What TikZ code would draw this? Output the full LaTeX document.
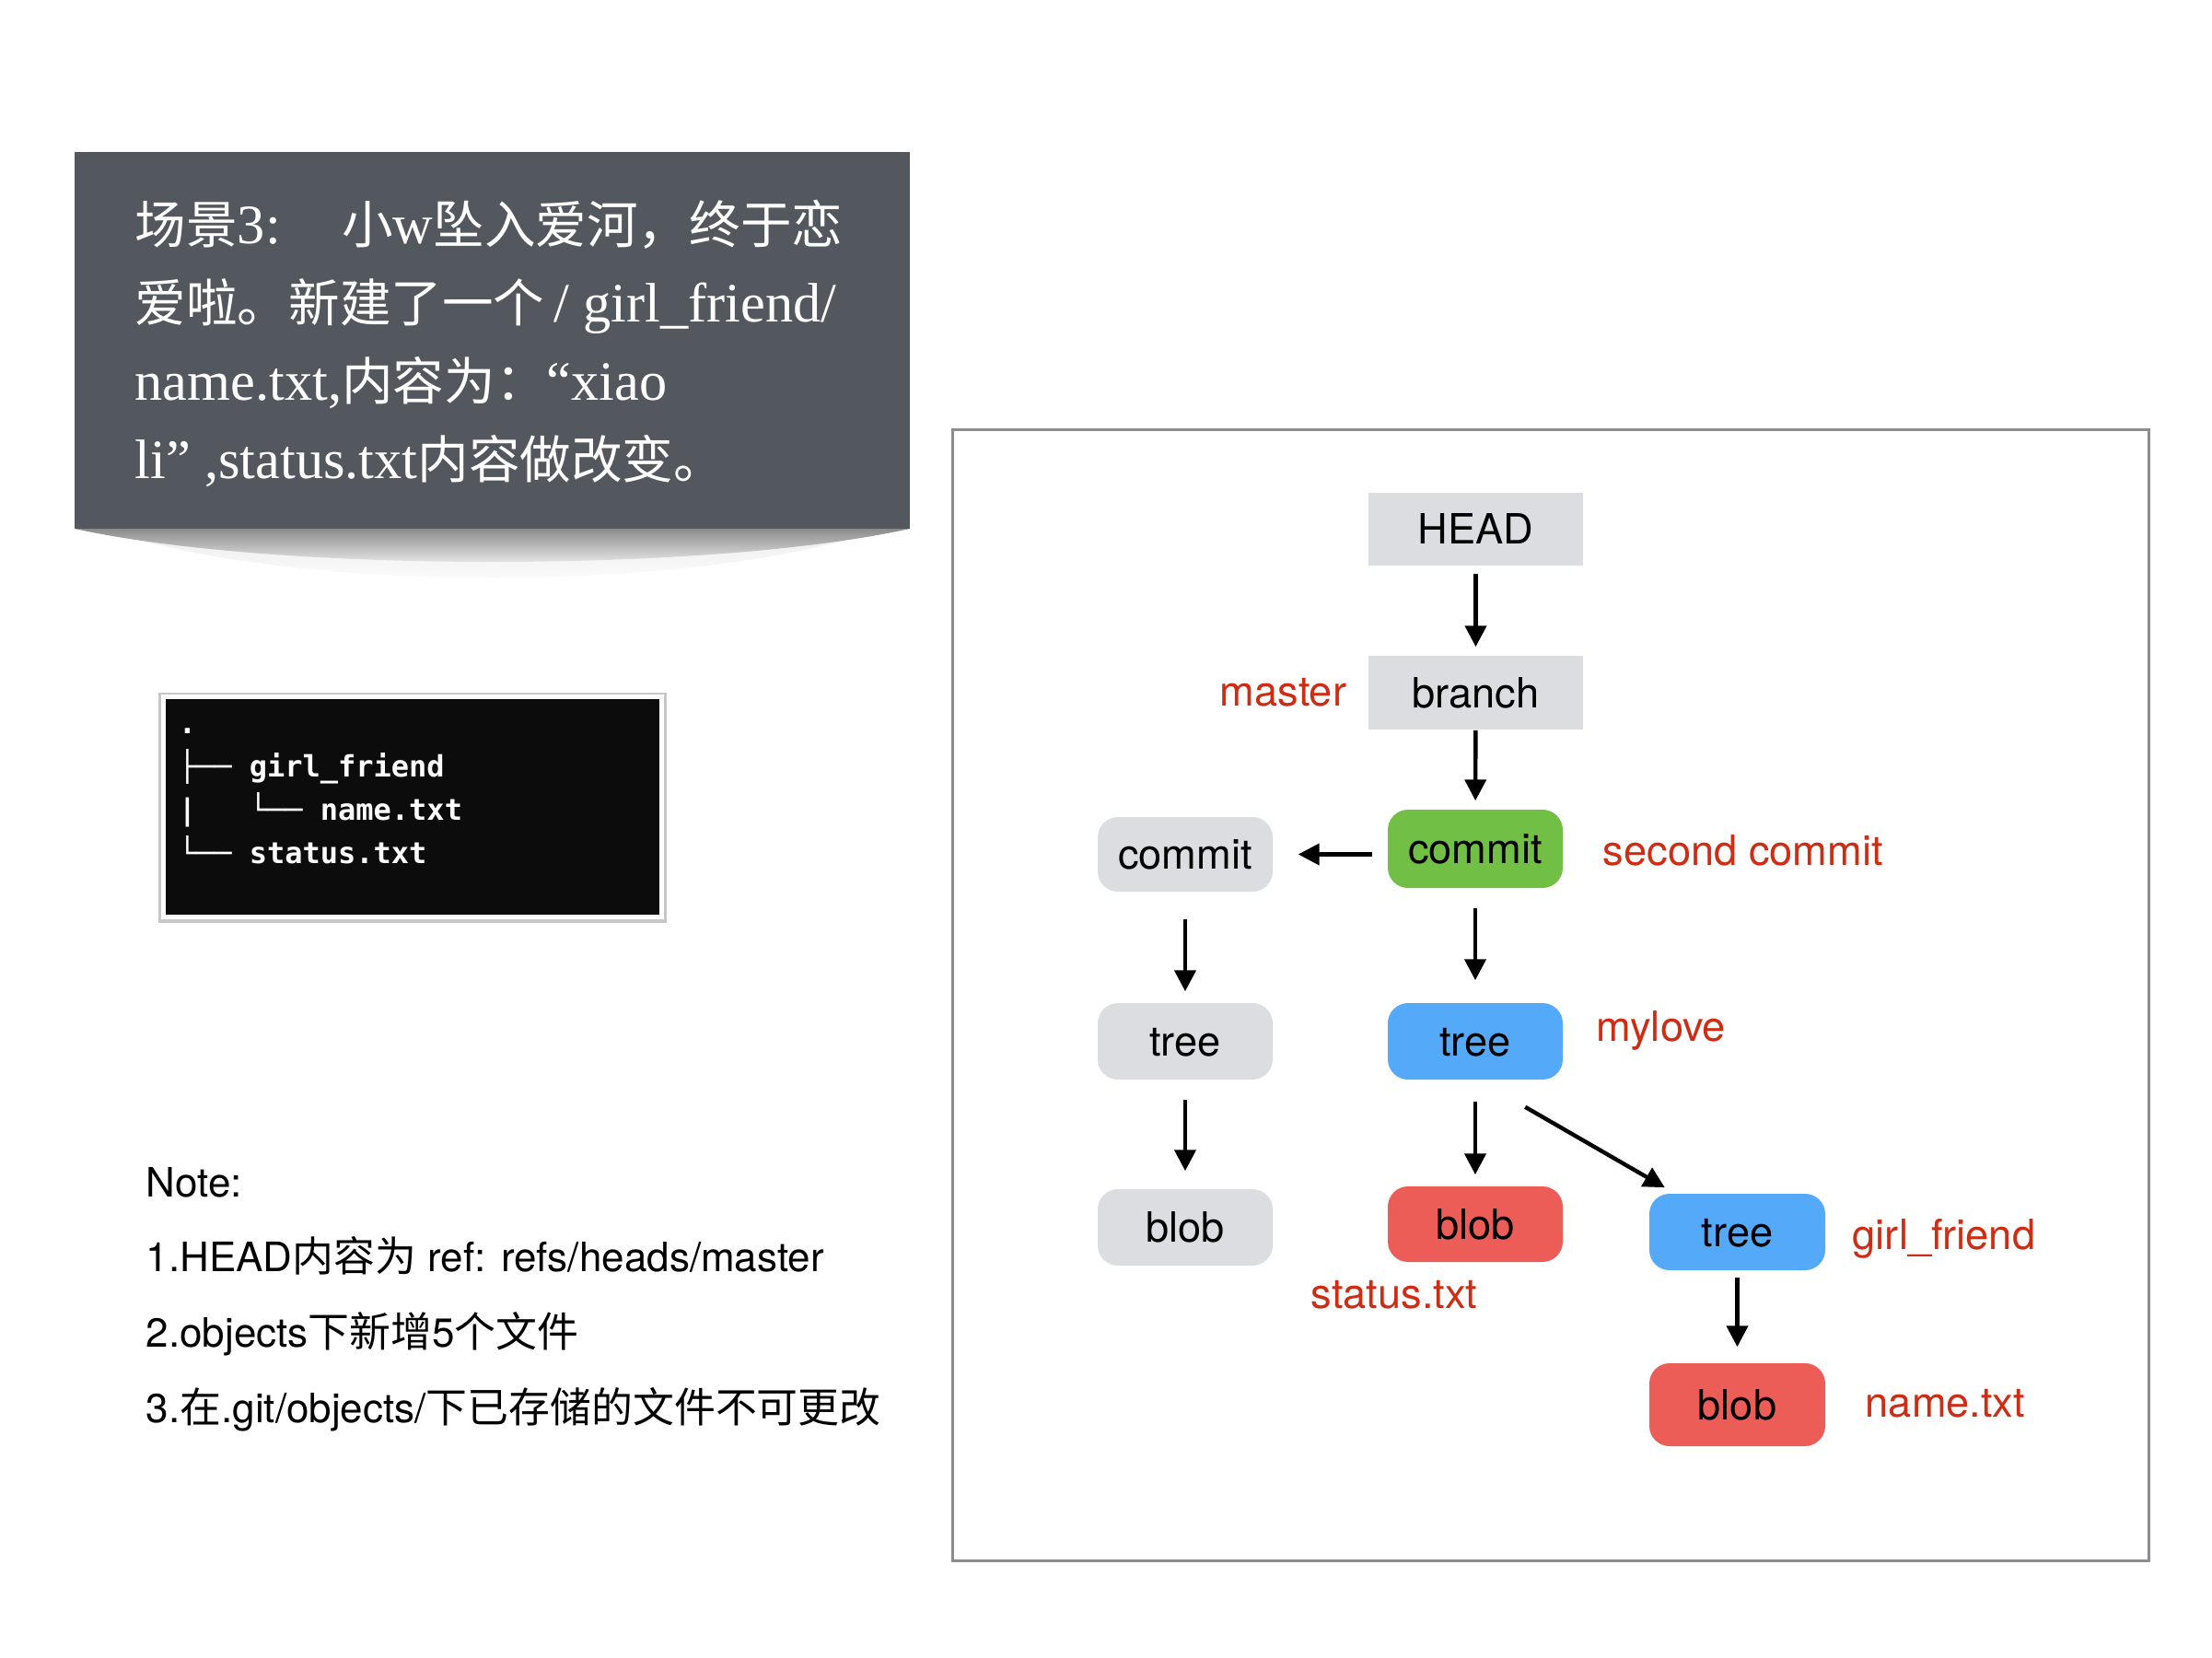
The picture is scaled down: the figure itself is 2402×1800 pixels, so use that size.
\documentclass[tikz,border=0pt]{standalone}
\usepackage{fontspec}
\setmainfont{TeX Gyre Heros}
\newfontfamily\serifl[Scale=1.085]{Liberation Serif}
\newfontfamily\cjk{Noto Sans CJK SC}
\newfontfamily\cjkn[Scale=1.02]{Noto Sans CJK SC}
\newfontfamily\monof{DejaVu Sans Mono}
\usetikzlibrary{arrows.meta}
\definecolor{boxgray}{RGB}{220,221,224}
\definecolor{cgreen}{RGB}{113,191,68}
\definecolor{cblue}{RGB}{84,169,249}
\definecolor{cred}{RGB}{236,93,87}
\definecolor{labred}{RGB}{205,45,20}
\definecolor{framegray}{RGB}{140,140,145}
\definecolor{darkbox}{RGB}{83,87,94}
\definecolor{termblack}{RGB}{12,12,12}
\tikzset{
  box/.style={inner sep=0pt, text height=8.1pt, text depth=0pt,
    font=\fontsize{11.3}{13}\selectfont, minimum width=47.5pt, minimum height=20.75pt},
  sqbox/.style={box, fill=boxgray, minimum width=58.25pt, minimum height=19.75pt},
  gbox/.style={box, fill=boxgray, rounded corners=5.5pt},
  grbox/.style={box, fill=cgreen, rounded corners=5.5pt},
  blbox/.style={box, fill=cblue, rounded corners=5.5pt},
  rdbox/.style={box, fill=cred, rounded corners=5.5pt},
  arr/.style={-{Triangle[length=5.7pt,width=5.7pt]}, line width=1.1pt},
  lab/.style={text=labred, font=\fontsize{11.3}{13}\selectfont, anchor=base west, inner sep=0pt},
  boxline/.style={text=white, font=\serifl\fontsize{13.9}{16}\selectfont, anchor=base west, inner sep=0pt},
  termline/.style={text=white, font=\monof\bfseries\fontsize{8}{10}\selectfont, anchor=base west, inner sep=0pt},
  noteline/.style={text=black, font=\fontsize{11}{13}\selectfont, anchor=base west, inner sep=0pt},
}
\begin{document}
\begin{tikzpicture}[x=0.25pt, y=-0.25pt]
\useasboundingbox[fill=white] (0,0) rectangle (2402,1800);

% dark text box with curled shadow
\shade[top color=black!20, bottom color=white, opacity=0.35] (110,574) .. controls (320,645) and (750,645) .. (960,574) -- cycle;
\shade[top color=black!45, bottom color=white] (81,574) .. controls (300,622) and (770,622) .. (988,574) -- cycle;
\fill[darkbox] (81,165) rectangle (988,574);
\node[boxline] (l1) at (146,264) {{\cjk 场景}3:\hspace{1.1em}{\cjk 小}w{\cjk 坠入爱河，终于恋}};
\node[boxline] (l2) at (146,349) {{\cjk 爱啦。新建了一个}\,/ girl\_friend/};
\node[boxline] (l3) at (146,434) {name.txt,{\cjk 内容为：}“xiao};
\node[boxline] (l4) at (146,519) {li”\ ,status.txt{\cjk 内容做改变。}};

% terminal
\fill[black!22] (172,752) rectangle (724,1002);
\fill[white] (175,754) rectangle (721,998);
\fill[termblack] (180,759) rectangle (716,993);
\node[termline] (t0) at (193,796) {.};
\node[termline] (t1) at (193,843) {├── girl\_friend};
\node[termline] (t2) at (193,890) {|\ \ \ └── name.txt};
\node[termline] (t3) at (193,937) {└── status.txt};

% notes
\node[noteline] (n0) at (158,1299) {Note:};
\node[noteline] (n1) at (158,1380) {1.HEAD{\cjkn 内容为} ref: refs/heads/master};
\node[noteline] (n2) at (158,1462) {2.objects{\cjkn 下新增}5{\cjkn 个文件}};
\node[noteline] (n3) at (158,1544) {3.{\cjkn 在}.git/objects/{\cjkn 下已存储的文件不可更改}};

% frame
\draw[framegray, line width=0.75pt] (1034,466) rectangle (2333,1694);

% diagram nodes
\node[sqbox] (head) at (1602.5,574) {HEAD};
\node[sqbox, minimum height=20pt] (branch) at (1602.5,752) {branch};
\node[grbox, minimum height=21.25pt] (gcommit) at (1602,921.5) {commit};
\node[gbox, minimum height=20.25pt] (commit) at (1287,927.5) {commit};
\node[gbox] (tree) at (1287,1130.5) {tree};
\node[blbox] (btree) at (1602,1130.5) {tree};
\node[gbox] (blob) at (1287,1332.5) {blob};
\node[rdbox, minimum height=20.5pt] (rblob) at (1602,1329) {blob};
\node[blbox, minimum width=47.75pt] (tree2) at (1886.5,1337.5) {tree};
\node[rdbox, minimum width=47.75pt, minimum height=22.5pt] (blob2) at (1886.5,1525) {blob};

% labels
\node[lab] (lmaster) at (1324,766) {master};
\node[lab] (lsecond) at (1740,939) {second commit};
\node[lab] (lmylove) at (1733,1130) {mylove};
\node[lab] (lstatus) at (1423,1420) {status.txt};
\node[lab] (lgirl) at (2011,1356) {girl\_friend};
\node[lab] (lname) at (2025,1538) {name.txt};

% arrows
\draw[arr, shorten <=2.25pt, shorten >=2.25pt] (head) -- (branch);
\draw[arr, shorten <=0pt, shorten >=2.25pt] (branch) -- (gcommit);
\draw[arr, shorten <=4pt, shorten >=6.75pt] (gcommit.west |- commit.east) -- (commit.east);
\draw[arr, shorten <=7.25pt, shorten >=3pt] (commit) -- (tree);
\draw[arr, shorten <=5.25pt, shorten >=6pt] (gcommit) -- (btree);
\draw[arr, shorten <=5.25pt, shorten >=4.75pt] (tree) -- (blob);
\draw[arr, shorten <=5.75pt, shorten >=3pt] (btree) -- (rblob);
\draw[arr, shorten <=14.5pt, shorten >=3pt] ([xshift=1pt]btree.south) -- ([xshift=7pt]tree2.north west);
\draw[arr, shorten <=1.75pt, shorten >=4.25pt] (tree2) -- (blob2);
\end{tikzpicture}
\end{document}
